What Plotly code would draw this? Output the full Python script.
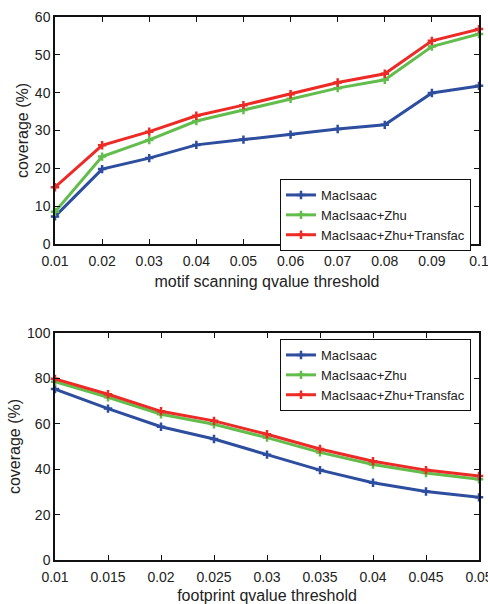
import plotly.graph_objects as go

# ---- data ----
series_names = ["MacIsaac", "MacIsaac+Zhu", "MacIsaac+Zhu+Transfac"]
series_colors = ["#2D4E9E", "#62BD4C", "#EC2A26"]

top_x = [0.01, 0.02, 0.03, 0.04, 0.05, 0.06, 0.07, 0.08, 0.09, 0.10]
top_x_labels = ["0.01", "0.02", "0.03", "0.04", "0.05", "0.06", "0.07", "0.08", "0.09", "0.1"]
top_macisaac = [7.3, 19.8, 22.7, 26.2, 27.6, 28.9, 30.4, 31.5, 39.9, 41.8]
top_zhu = [8.5, 23.1, 27.5, 32.5, 35.4, 38.4, 41.2, 43.4, 52.2, 55.5]
top_transfac = [15.0, 26.1, 29.7, 33.9, 36.7, 39.6, 42.7, 45.0, 53.7, 56.8]
top_y_ticks = [0, 10, 20, 30, 40, 50, 60]

bot_x = [0.01, 0.015, 0.02, 0.025, 0.03, 0.035, 0.04, 0.045, 0.05]
bot_x_labels = ["0.01", "0.015", "0.02", "0.025", "0.03", "0.035", "0.04", "0.045", "0.05"]
bot_macisaac = [75.3, 66.7, 58.7, 53.3, 46.4, 39.6, 34.0, 30.2, 27.6]
bot_zhu = [78.5, 71.7, 64.2, 59.8, 53.9, 47.4, 42.1, 38.3, 35.6]
bot_transfac = [79.8, 73.0, 65.5, 61.3, 55.4, 48.9, 43.5, 39.6, 37.0]
bot_y_ticks = [0, 20, 40, 60, 80, 100]

W, H = 488, 604
FONT = "Liberation Sans, Arial, sans-serif"
TXT = "#222222"

fig = go.Figure()

top_series = [top_macisaac, top_zhu, top_transfac]
bot_series = [bot_macisaac, bot_zhu, bot_transfac]

def marker(color):
    return dict(symbol="cross-thin", size=6, line=dict(color=color, width=2.5), color=color)

for name, color, ys in zip(series_names, series_colors, top_series):
    fig.add_trace(go.Scatter(
        x=top_x, y=ys, name=name, mode="lines+markers",
        line=dict(color=color, width=3), marker=marker(color),
        xaxis="x", yaxis="y", legend="legend", cliponaxis=False,
    ))
for name, color, ys in zip(series_names, series_colors, bot_series):
    fig.add_trace(go.Scatter(
        x=bot_x, y=ys, name=name, mode="lines+markers",
        line=dict(color=color, width=3), marker=marker(color),
        xaxis="x2", yaxis="y2", legend="legend2", cliponaxis=False,
    ))

xdom = [55 / W, 479 / W]
top_dom = [1 - 244 / H, 1 - 17 / H]
bot_dom = [1 - 560 / H, 1 - 333 / H]

axis_common = dict(
    showline=True, linecolor="#111111", linewidth=1.5, mirror="ticks",
    ticks="inside", ticklen=5, tickwidth=1, tickcolor="#111111",
    showgrid=False, zeroline=False,
    tickfont=dict(family=FONT, size=14, color=TXT),
    automargin=False, ticklabeloverflow="allow",
)
title_font = dict(family=FONT, size=16, color=TXT)

legend_common = dict(
    bgcolor="white", bordercolor="#111111", borderwidth=1,
    font=dict(family=FONT, size=13, color=TXT),
    xanchor="right", yanchor="top", tracegroupgap=0,
    itemwidth=30,
)

fig.update_layout(
    width=W, height=H,
    margin=dict(l=0, r=0, t=0, b=0),
    paper_bgcolor="white", plot_bgcolor="white",
    showlegend=True,
    xaxis=dict(domain=xdom, anchor="y", range=[0.01, 0.10],
               tickvals=top_x, ticktext=top_x_labels, ticklabelstandoff=3,
               title=dict(text="motif scanning qvalue threshold", standoff=8, font=title_font),
               **axis_common),
    yaxis=dict(domain=top_dom, anchor="x", range=[0, 60],
               tickvals=top_y_ticks,
               title=dict(text="coverage (%)", standoff=2, font=title_font),
               **axis_common),
    xaxis2=dict(domain=xdom, anchor="y2", range=[0.01, 0.05],
                tickvals=bot_x, ticktext=bot_x_labels, ticklabelstandoff=3,
                title=dict(text="footprint qvalue threshold", standoff=11, font=title_font),
                **axis_common),
    yaxis2=dict(domain=bot_dom, anchor="x2", range=[0, 100],
                tickvals=bot_y_ticks,
                title=dict(text="coverage (%)", standoff=2, font=title_font),
                **axis_common),
    legend=dict(x=471 / W, y=1 - 179 / H, **legend_common),
    legend2=dict(x=471 / W, y=1 - 339 / H, **legend_common),
)

fig.write_html("out.html")
